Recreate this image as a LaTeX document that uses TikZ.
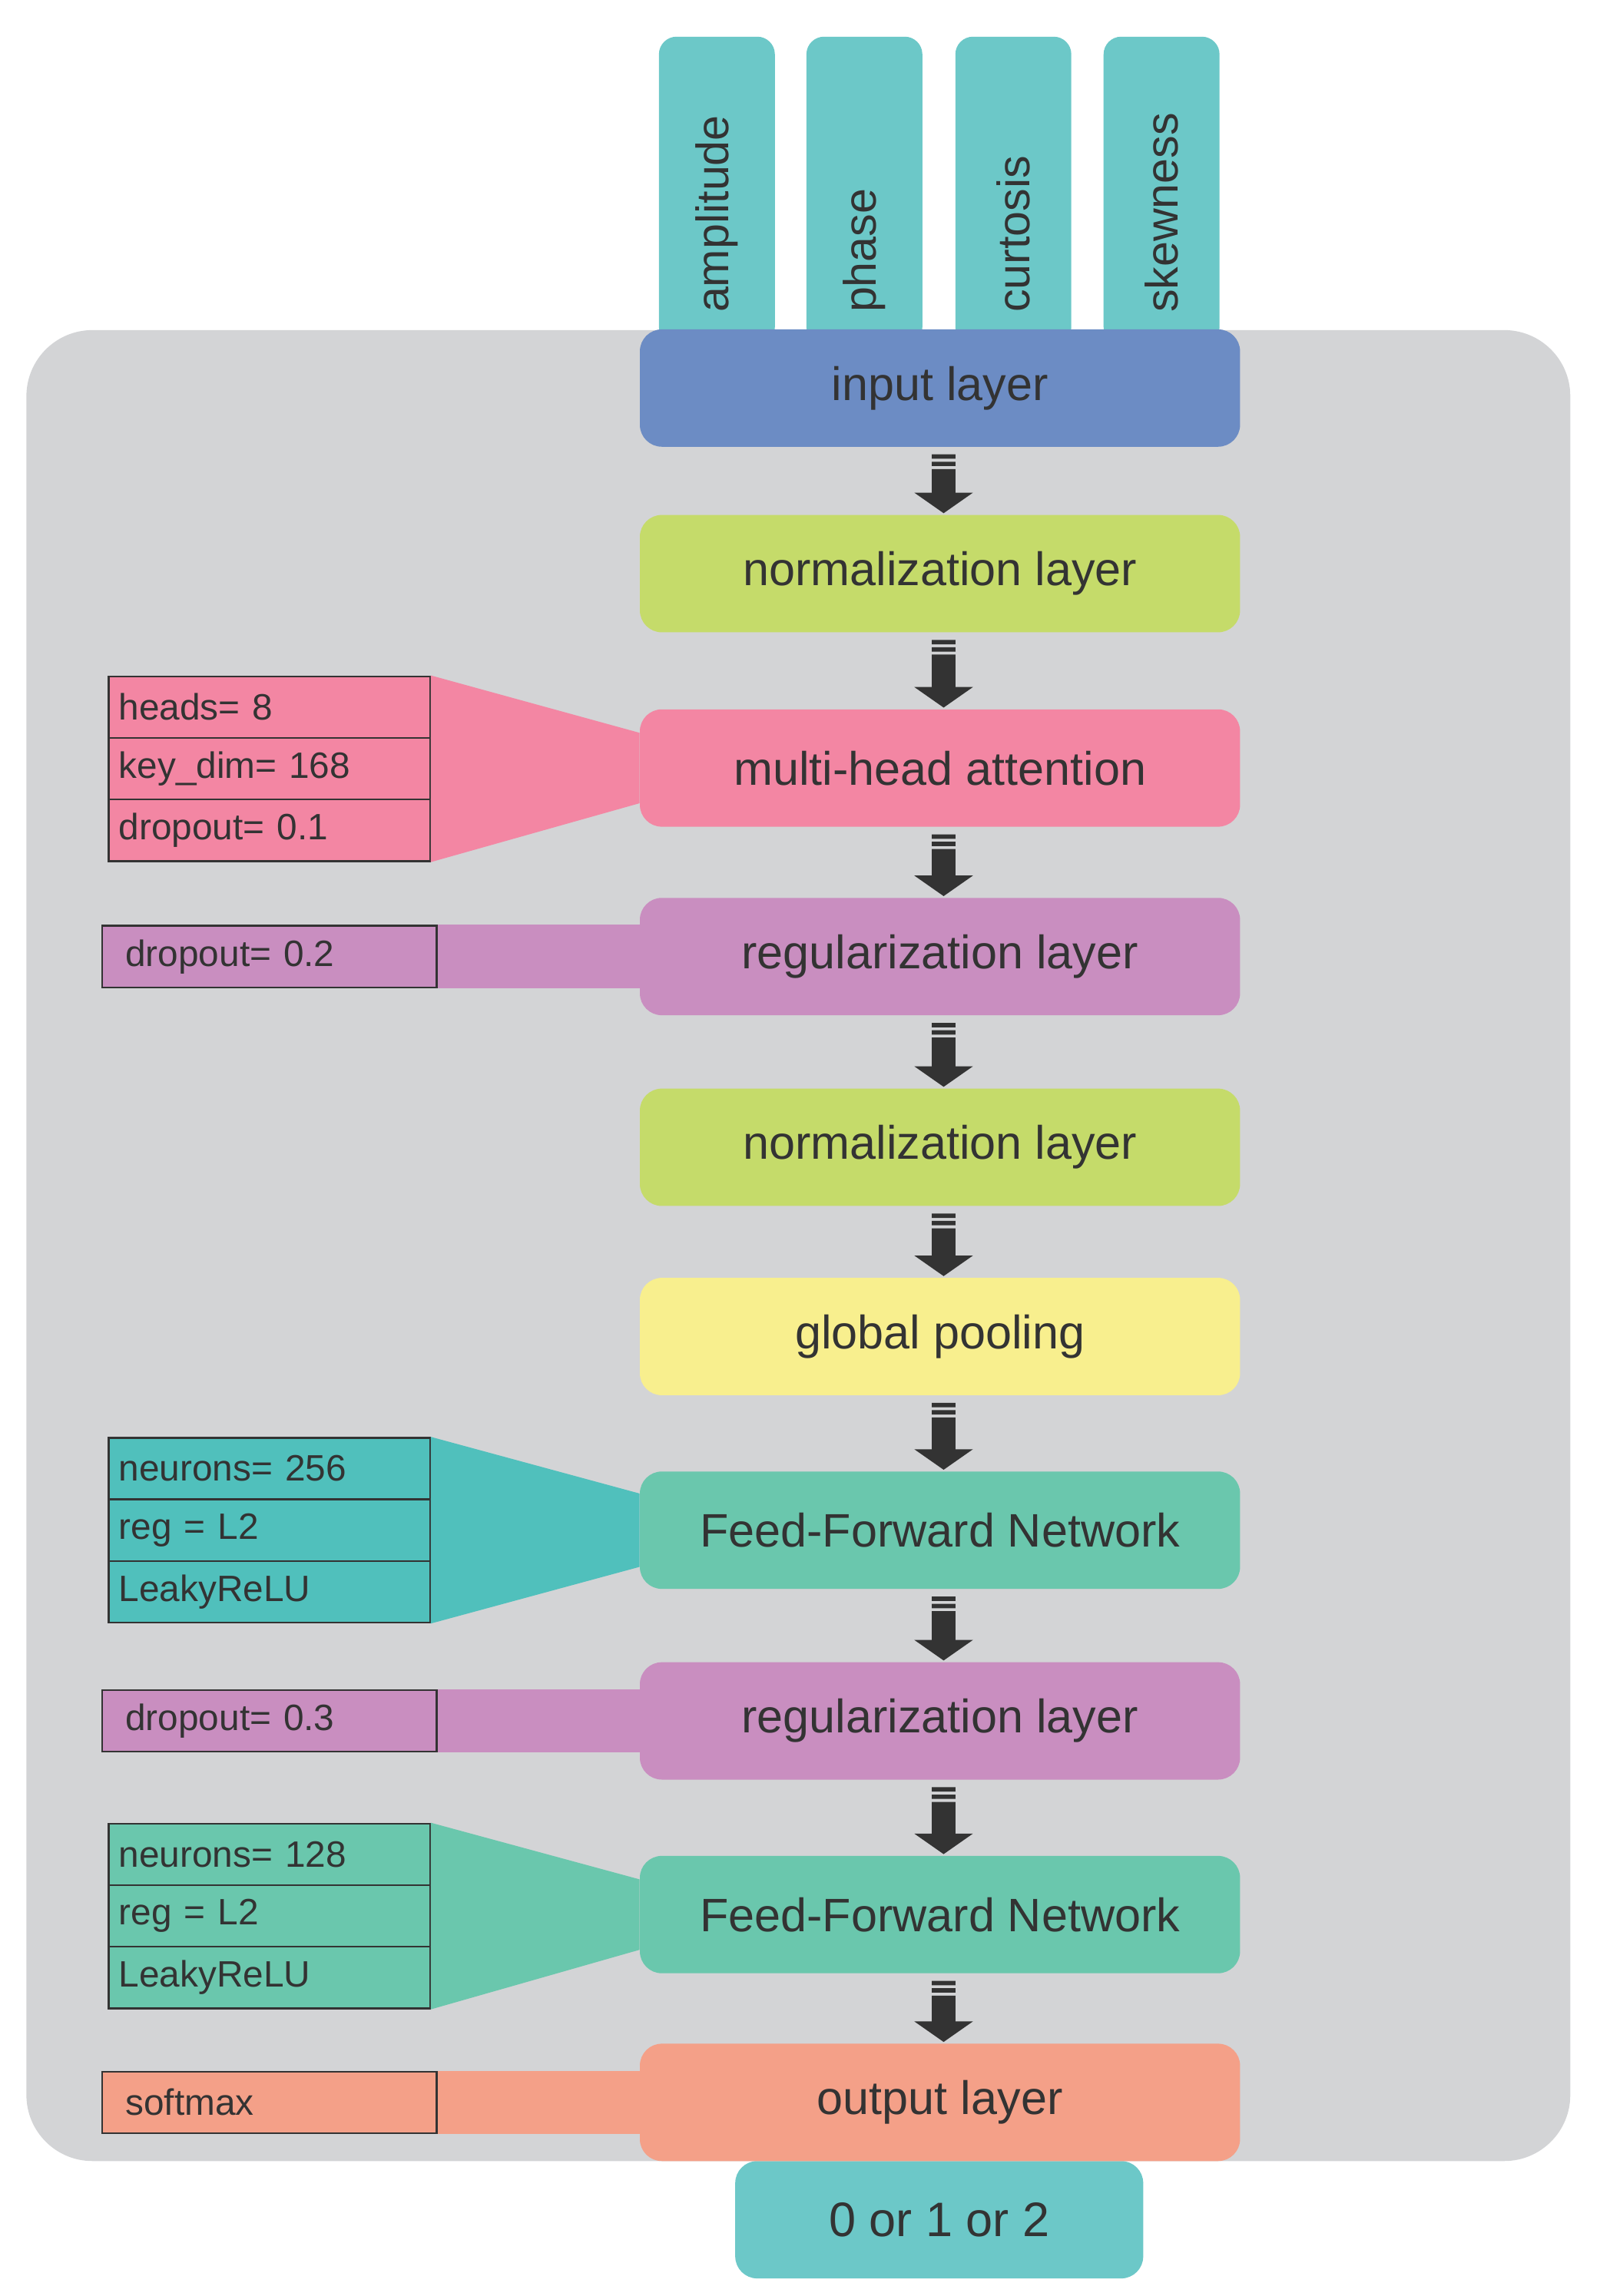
\documentclass[tikz,border=0pt]{standalone}
\usepackage{fontspec}
\setmainfont{Liberation Sans}
\usetikzlibrary{calc}
\definecolor{bgc}{HTML}{D3D4D6}
\definecolor{teal}{HTML}{6CC8C8}
\definecolor{inp}{HTML}{6C8CC4}
\definecolor{norm}{HTML}{C5DB6A}
\definecolor{mha}{HTML}{F386A3}
\definecolor{reg}{HTML}{C98EC0}
\definecolor{pool}{HTML}{F8EF8E}
\definecolor{ffn}{HTML}{6AC7AD}
\definecolor{ffnb}{HTML}{50C0BC}
\definecolor{outc}{HTML}{F4A088}
\definecolor{txt}{HTML}{333333}
\begin{document}
\begin{tikzpicture}[x=1pt,y=-1pt,
  lay/.style={rounded corners=15pt,minimum width=409pt,minimum height=80pt,inner sep=0pt,text=txt,font=\fontsize{32}{36}\selectfont},
  tab/.style={fill=teal,rounded corners=12pt,rotate=90,minimum width=210pt,minimum height=79pt,text width=166pt,inner xsep=22pt,inner ysep=0pt,align=left,text=txt,font=\fontsize{31}{36}\selectfont},
  side/.style={draw=txt,line width=1.2pt,minimum width=219pt,minimum height=42pt,text width=205pt,inner xsep=7pt,inner ysep=0pt,align=left,text=txt,font=\fontsize{25}{28}\selectfont},
  arr/.style={fill=txt}]
\useasboundingbox (0,0) rectangle (1090,1565);
\node[fill=bgc,rounded corners=45pt,minimum width=1052pt,minimum height=1248pt] (bg) at (544,849) {};
\node[tab] (t1) at (488.5,130) {amplitude};
\node[tab] (t2) at (589,130) {phase};
\node[tab] (t3) at (690.5,130) {curtosis};
\node[tab] (t4) at (791.5,130) {skewness};
\node[fill=teal,rounded corners=15pt,minimum width=278pt,minimum height=80pt,text=txt,font=\fontsize{33}{36}\selectfont] (out) at (640,1513) {0 or 1 or 2};
% side boxes
\node[side,fill=mha] (p1) at (183.5,482) {heads= 8};
\node[side,fill=mha] (p2) at (183.5,524) {key\_dim= 168};
\node[side,fill=mha] (p3) at (183.5,566) {dropout= 0.1};
\node[side,fill=reg,inner xsep=16pt,text width=196pt] (d1) at (183.5,652) {dropout= 0.2};
\node[side,fill=ffnb] (f1) at (183.5,1001) {neurons= 256};
\node[side,fill=ffnb] (f2) at (183.5,1043) {reg = L2};
\node[side,fill=ffnb] (f3) at (183.5,1085) {LeakyReLU};
\node[side,fill=reg,inner xsep=16pt,text width=196pt] (d2) at (183.5,1173) {dropout= 0.3};
\node[side,fill=ffn] (g1) at (183.5,1264) {neurons= 128};
\node[side,fill=ffn] (g2) at (183.5,1306) {reg = L2};
\node[side,fill=ffn] (g3) at (183.5,1348) {LeakyReLU};
\node[side,fill=outc,inner xsep=16pt,text width=196pt] (s1) at (183.5,1433) {softmax};
% layers
\node[lay,fill=inp] (L1) at (640.5,264.5) {input layer};
\node[lay,fill=norm] (L2) at (640.5,391) {normalization layer};
\node[lay,fill=mha] (L3) at (640.5,523.5) {multi-head attention};
\node[lay,fill=reg] (L4) at (640.5,652) {regularization layer};
\node[lay,fill=norm] (L5) at (640.5,782) {normalization layer};
\node[lay,fill=pool] (L6) at (640.5,911) {global pooling};
\node[lay,fill=ffn] (L7) at (640.5,1043) {Feed-Forward Network};
\node[lay,fill=reg] (L8) at (640.5,1173) {regularization layer};
\node[lay,fill=ffn] (L9) at (640.5,1305) {Feed-Forward Network};
\node[lay,fill=outc] (L10) at (640.5,1433) {output layer};
% connectors side -> layer
\fill[mha] (p1.north east) -- ([yshift=24pt]L3.west) -- ([yshift=-24pt]L3.west) -- (p3.south east) -- cycle;
\fill[reg] (d1.north east) rectangle (L4.west |- d1.south);
\fill[ffnb] (f1.north east) -- ([yshift=25pt]L7.west) -- ([yshift=-25pt]L7.west) -- (f3.south east) -- cycle;
\fill[reg] (d2.north east) rectangle (L8.west |- d2.south);
\fill[ffn] (g1.north east) -- ([yshift=24pt]L9.west) -- ([yshift=-24pt]L9.west) -- (g3.south east) -- cycle;
\fill[outc] (s1.north east) rectangle (L10.west |- s1.south);
\foreach \a/\b in {L1/L2,L2/L3,L3/L4,L4/L5,L5/L6,L6/L7,L7/L8,L8/L9,L9/L10}{
  \path let \p1=(\a.south), \p2=(\b.north) in
    [arr] ({\x1+2.5pt-8pt},{\y1-5pt}) rectangle ({\x1+2.5pt+8pt},{\y1-8pt})
    ({\x1+2.5pt-8pt},{\y1-10pt}) rectangle ({\x1+2.5pt+8pt},{\y1-13pt})
    ({\x1+2.5pt-8pt},{\y1-15pt}) rectangle ({\x1+2.5pt+8pt},{\y2+15pt})
    ({\x1+2.5pt-20pt},{\y2+15pt}) -- ({\x1+2.5pt+20pt},{\y2+15pt}) -- ({\x1+2.5pt},{\y2+1pt}) -- cycle;
}
\end{tikzpicture}
\end{document}
